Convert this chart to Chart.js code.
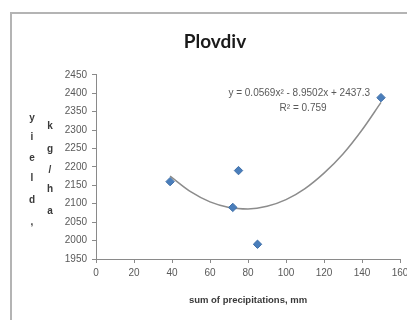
<!DOCTYPE html>
<html>
<head>
<meta charset="utf-8">
<script src="https://cdn.jsdelivr.net/npm/chart.js@4/dist/chart.umd.min.js"></script>
<style>
  html, body { margin:0; padding:0; width:407px; height:320px; overflow:hidden; background:#fff; }
  #wrap { position:absolute; left:0; top:0; width:420px; height:320px; }
  #frame { position:absolute; left:10px; top:12px; width:420px; height:340px; border:2px solid #b4b4b4; box-sizing:border-box; }
  canvas { position:absolute; left:0; top:0; }
</style>
</head>
<body>
<div id="wrap">
  <div id="frame"></div>
  <canvas id="c" width="420" height="320"></canvas>
</div>
<script>
// Observed points (sum of precipitations, mm -> yield, kg/ha)
const precipitation = [39, 75, 72, 85, 150];
const yieldValues   = [2160, 2190, 2090, 1990, 2388];

// Polynomial trendline
const trendX = [39, 50, 60, 70, 80, 90, 100, 110, 120, 130, 140, 150];
const trendY = [2175, 2132, 2105, 2090, 2086, 2093, 2111, 2141, 2183, 2235, 2300, 2375];

const chartTitle = "Plovdiv";
const xAxisTitle = "sum of precipitations, mm";
const yTitleCol1 = ["y", "i", "e", "l", "d", ","];
const yTitleCol2 = ["k", "g", "/", "h", "a"];
const equationText = "y = 0.0569x² - 8.9502x + 2437.3";
const r2Text = "R² = 0.759";

const tickFont = { family: "'Liberation Sans Narrow', 'Liberation Sans', Arial, sans-serif", size: 10 };

const overlay = {
  id: 'overlay',
  afterDraw(chart) {
    const ctx = chart.ctx;
    const xs = chart.scales.x, ys = chart.scales.y;
    ctx.save();
    // stacked y-axis title
    ctx.fillStyle = '#3a3a3a';
    ctx.font = "bold 10px 'Liberation Sans', Arial, sans-serif";
    ctx.textAlign = 'center';
    ctx.textBaseline = 'middle';
    const col1Y = [118, 137, 158, 178, 200, 222];
    const col2Y = [126, 149, 170, 189, 211];
    yTitleCol1.forEach((ch, i) => ctx.fillText(ch, 32, col1Y[i]));
    yTitleCol2.forEach((ch, i) => ctx.fillText(ch, 50, col2Y[i]));
    // trendline equation
    ctx.fillStyle = '#595959';
    ctx.font = "10px 'Liberation Sans Narrow', 'Liberation Sans', Arial, sans-serif";
    ctx.fillText(equationText, xs.getPixelForValue(107), ys.getPixelForValue(2401));
    ctx.fillText(r2Text, xs.getPixelForValue(109), ys.getPixelForValue(2358));
    ctx.restore();
  }
};

new Chart(document.getElementById('c'), {
  type: 'scatter',
  data: {
    datasets: [
      {
        label: 'yield',
        data: precipitation.map((x, i) => ({ x, y: yieldValues[i] })),
        pointStyle: 'rectRot',
        pointRadius: 4.2,
        backgroundColor: '#4a7ebb',
        borderColor: '#3f6fa8',
        borderWidth: 1,
        order: 1
      },
      {
        label: 'trend',
        data: trendX.map((x, i) => ({ x, y: trendY[i] })),
        showLine: true,
        pointRadius: 0,
        borderColor: '#8c8c8c',
        borderWidth: 1.5,
        cubicInterpolationMode: 'monotone',
        fill: false,
        order: 2
      }
    ]
  },
  options: {
    responsive: false,
    animation: false,
    locale: 'en-US',
    layout: { padding: { left: 30, right: 20, top: 0, bottom: 0 } },
    plugins: {
      legend: { display: false },
      tooltip: { enabled: false },
      title: {
        display: true,
        text: chartTitle,
        color: '#1a1a1a',
        font: { family: "Lato, 'Liberation Sans', Arial, sans-serif", size: 19, weight: 'bold' },
        padding: { top: 30, bottom: 22 }
      }
    },
    scales: {
      x: {
        type: 'linear',
        min: 0, max: 160,
        ticks: { stepSize: 20, color: '#595959', font: tickFont, padding: 4,
                 callback: (v) => String(v) },
        grid: { display: true, drawOnChartArea: false, drawTicks: true, tickLength: 4, color: '#8a8a8a' },
        border: { display: true, color: '#8a8a8a', width: 1 },
        title: {
          display: true, text: xAxisTitle, color: '#3a3a3a',
          font: { family: "'Liberation Sans Narrow', 'Liberation Sans', Arial, sans-serif", size: 9.5, weight: 'bold' },
          padding: { top: 4, bottom: 14 }
        },
        afterFit(scale) { scale.height = 61; }
      },
      y: {
        type: 'linear',
        min: 1950, max: 2450,
        ticks: { stepSize: 50, color: '#595959', font: tickFont, padding: 5,
                 callback: (v) => String(v) },
        grid: { display: true, drawOnChartArea: false, drawTicks: true, tickLength: 4, color: '#8a8a8a' },
        border: { display: true, color: '#8a8a8a', width: 1 },
        afterFit(scale) { scale.width = 66; }
      }
    }
  },
  plugins: [overlay]
});
</script>
</body>
</html>
